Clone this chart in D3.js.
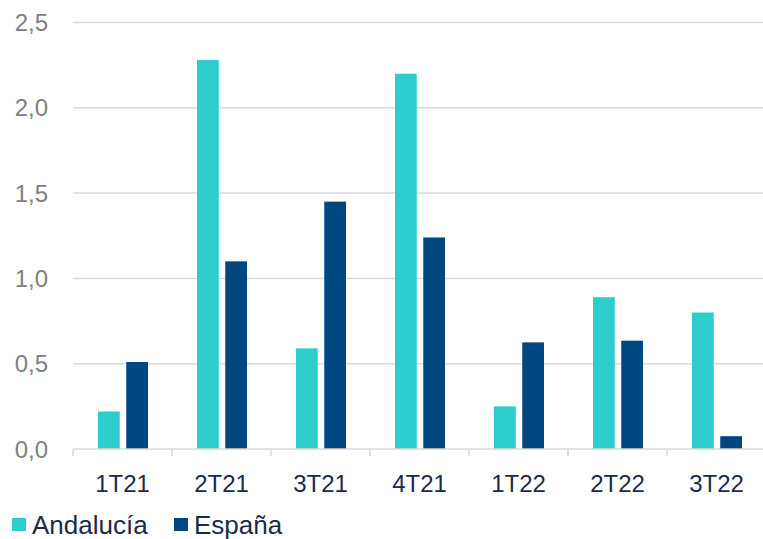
<!DOCTYPE html>
<html><head><meta charset="utf-8">
<script src="https://cdn.jsdelivr.net/npm/d3@7"></script>
<style>body{margin:0;background:#fff}svg{display:block;font-family:"Liberation Sans",Arial,sans-serif}</style>
</head><body><svg id="c" width="763" height="539"></svg>
<script>
const categories = ["1T21","2T21","3T21","4T21","1T22","2T22","3T22"];
const seriesNames = ["Andalucía","España"];
const andalucia = [0.22, 2.28, 0.59, 2.20, 0.25, 0.89, 0.80];
const espana = [0.51, 1.10, 1.45, 1.24, 0.625, 0.635, 0.075];
const yTicks = [0, 0.5, 1.0, 1.5, 2.0, 2.5];
const colors = ["#2ECDCD", "#00467F"];

const svg = d3.select("#c");
const x = d3.scaleBand().domain(categories).range([73, 766]);
const x1 = d3.scaleBand().domain(seriesNames).range([25, 75]).paddingInner(0.23);
const y = d3.scaleLinear().domain([0, 2.5]).range([449, 22.5]);
const fmt = d => d.toFixed(1).replace(".", ",");

// gridlines
svg.append("g").selectAll("line").data(yTicks.filter(d => d > 0)).join("line")
  .attr("x1", 73).attr("x2", 763).attr("y1", d => y(d)).attr("y2", d => y(d))
  .attr("stroke", "#d9d9d9").attr("stroke-width", 1.5);

// y labels
svg.append("g").selectAll("text").data(yTicks).join("text")
  .attr("x", 48).attr("y", d => y(d)).attr("dy", "0.36em")
  .attr("text-anchor", "end").attr("font-size", 24).attr("fill", "#808080")
  .text(fmt);

// bars
const data = categories.map((c, i) => ({c, vals: [andalucia[i], espana[i]]}));
const g = svg.append("g").selectAll("g").data(data).join("g")
  .attr("transform", d => `translate(${x(d.c)},0)`);
g.selectAll("rect").data(d => d.vals.map((v, j) => ({s: seriesNames[j], v, j}))).join("rect")
  .attr("x", d => x1(d.s)).attr("width", x1.bandwidth())
  .attr("y", d => y(d.v)).attr("height", d => y(0) - y(d.v))
  .attr("fill", d => colors[d.j]);

// x axis
svg.append("line").attr("x1", 73).attr("x2", 763).attr("y1", y(0)).attr("y2", y(0))
  .attr("stroke", "#d9d9d9").attr("stroke-width", 1.5);
svg.append("g").selectAll("line").data(categories).join("line")
  .attr("x1", d => x(d)).attr("x2", d => x(d)).attr("y1", y(0)).attr("y2", y(0) + 7)
  .attr("stroke", "#d9d9d9").attr("stroke-width", 1.5);
svg.append("g").selectAll("text").data(categories).join("text")
  .attr("x", d => x(d) + x.bandwidth() / 2).attr("y", 492)
  .attr("text-anchor", "middle").attr("font-size", 24).attr("fill", "#1B2A4A")
  .text(d => d);

// legend
const legendX = [12, 174];
const lg = svg.append("g").selectAll("g").data(seriesNames).join("g")
  .attr("transform", (d, i) => `translate(${legendX[i]},0)`);
lg.append("rect").attr("x", 0).attr("y", 518).attr("width", 14).attr("height", 13)
  .attr("fill", (d, i) => colors[i]);
lg.append("text").attr("x", 20).attr("y", 534).attr("font-size", 26).attr("fill", "#1B2A4A")
  .text(d => d);
</script></body></html>
